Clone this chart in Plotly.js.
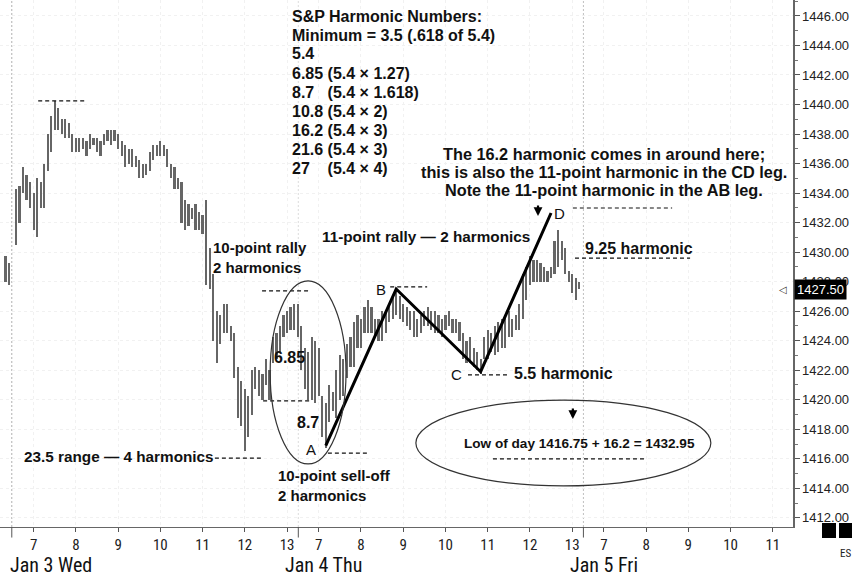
<!DOCTYPE html>
<html><head><meta charset="utf-8">
<script src="https://cdn.plot.ly/plotly-3.0.1.min.js"></script>
<style>html,body{margin:0;padding:0;background:#fff}#chart{width:855px;height:577px}</style>
</head><body><div id="chart"></div>
<script>
// 5-minute ES bars: index 0 = first bar of Jan 3 session (two bars of prior session at -3, -2)
const firstBar = -3;
const barHighs = [
 1429.75,1429.25,null,
 1434.25,1434.5,1435.75,1435.25,1434.75,1434.0,1435.0,1434.75,1436.0,1438.0,
 1439.25,1440.25,1439.75,1439.0,1439.0,1438.75,1438.0,1437.75,1437.75,1437.75,
 1437.5,1438.0,1437.75,1437.75,1437.5,1438.0,1438.25,1438.25,1438.25,1438.0,
 1437.5,1437.25,1437.0,1437.0,1436.5,1436.25,1436.0,1436.0,1436.75,1437.25,
 1437.25,1437.5,1437.25,1437.0,1436.0,1435.75,1435.0,1434.75,1433.5,1433.25,
 1433.0,1433.25,1432.75,1432.5,1433.5,1430.25,1428.5,1426.0,1425.75,1426.5,
 1426.5,1425.0,1424.5,1422.25,1421.25,1420.75,1420.25,1422.0,1422.25,1422.0,
 1421.75,1422.75,1422.0,1424.25,1424.5,1425.0,1425.75,1426.0,1426.25,1426.5,
 1426.5,1425.0,1423.5,1423.25,1424.25,1424.0,1423.5,1420.25,1419.75,1421.0,
 1420.5,1422.0,1423.0,1422.75,1423.75,1424.25,1425.25,1425.75,1425.5,1426.25,
 1426.75,1426.25,1425.5,1425.5,1426.0,1426.0,1426.5,1427.0,1427.5,1427.0,
 1426.5,1426.25,1426.0,1426.0,1425.5,1425.75,1426.0,1426.25,1426.0,1426.0,
 1425.75,1425.5,1425.75,1426.0,1425.5,1425.5,1425.25,1424.5,1424.0,1424.25,
 1423.5,1423.25,1422.75,1424.25,1424.75,1424.5,1425.0,1425.25,1425.5,1425.75,
 1426.0,1425.5,1425.75,1426.5,1428.5,1429.0,1429.75,1429.5,1429.5,1429.25,
 1429.0,1428.75,1429.0,1430.75,1431.5,1430.75,1430.25,1428.75,1428.5,1428.25,
 1428.0
];
const barLows = [
 1428.0,1427.75,null,
 1430.5,1432.0,1434.0,1433.5,1433.0,1431.5,1431.0,1433.0,1433.0,1435.5,
 1436.75,1438.25,1438.25,1438.0,1437.75,1437.75,1436.75,1436.75,1436.75,1437.0,
 1436.5,1437.0,1437.25,1436.75,1436.5,1437.25,1437.5,1437.25,1437.5,1437.0,
 1436.5,1435.75,1436.0,1435.75,1435.75,1435.0,1435.0,1435.25,1435.5,1436.25,
 1436.5,1436.5,1436.5,1435.75,1435.0,1434.25,1434.25,1432.0,1431.5,1431.75,
 1432.25,1431.5,1431.5,1431.25,1427.75,1427.5,1424.0,1422.5,1423.75,1424.5,
 1424.5,1424.0,1421.5,1418.75,1418.25,1416.5,1417.5,1419.0,1420.75,1420.25,
 1420.0,1421.0,1420.0,1422.5,1422.75,1423.25,1424.25,1424.5,1424.75,1424.75,
 1424.25,1422.0,1420.75,1420.0,1420.0,1419.75,1420.25,1417.5,1416.75,1418.5,
 1419.25,1418.75,1420.0,1420.25,1421.5,1422.25,1422.25,1423.5,1423.5,1424.5,
 1424.5,1424.5,1424.25,1424.0,1424.0,1424.5,1425.25,1425.5,1425.75,1425.5,
 1425.25,1425.0,1424.75,1424.25,1424.25,1424.5,1425.0,1425.0,1424.75,1424.5,
 1424.5,1424.25,1424.75,1425.0,1424.5,1424.5,1424.0,1422.75,1422.5,1422.5,
 1422.25,1422.0,1421.75,1422.75,1422.75,1423.25,1423.0,1423.25,1423.5,1423.5,
 1424.25,1424.25,1424.75,1424.75,1425.5,1426.75,1427.75,1428.0,1428.0,1428.0,
 1428.0,1428.0,1428.25,1428.5,1429.0,1429.5,1428.5,1428.0,1427.25,1426.75,
 1427.5
];
const lastPrice = 1427.50;

// ABCD pattern pivots
const pivotLabels = ['A','B','C','D'];
const pivotBars = [88, 108, 132, 152];
const pivotPrices = [1416.9, 1427.5, 1421.9, 1432.65];

// axis labels
const sessionHours = ['7','8','9','10','11','12','13'];
const lastDayHours = ['7','8','9','10','11'];
const dayLabels = ['Jan 3 Wed','Jan 4 Thu','Jan 5 Fri'];

// text blocks
const harmonicLines = [
 'S&P Harmonic Numbers:',
 'Minimum = 3.5 (.618 of 5.4)',
 '5.4',
 '6.85 (5.4 \u00d7 1.27)',
 '8.7\u00a0\u00a0\u00a0(5.4 \u00d7 1.618)',
 '10.8 (5.4 \u00d7 2)',
 '16.2 (5.4 \u00d7 3)',
 '21.6 (5.4 \u00d7 3)',
 '27\u00a0\u00a0\u00a0\u00a0(5.4 \u00d7 4)'
];
const cdNoteLines = [
 'The 16.2 harmonic comes in around here;',
 'this is also the 11-point harmonic in the CD leg.',
 'Note the 11-point harmonic in the AB leg.'
];

const xs = barHighs.map((_, i) => firstBar + i);
const spans = barHighs.map((h, i) => (h == null ? null : h - barLows[i]));

const tickVals = [], tickText = [];
for (let d = 0; d < 3; d++) {
  const hrs = d < 2 ? sessionHours : lastDayHours;
  hrs.forEach((h, j) => { tickVals.push(5 + 81 * d + 12 * j); tickText.push(h); });
}

const FONT = 'Liberation Sans, Arial, Helvetica, sans-serif';
const NARROW = 'Liberation Sans Narrow, Arial Narrow, Roboto Condensed, Liberation Sans, Arial, sans-serif';
const PLOT_H = 527;   // plot-area height in px (for paper-based text rows)

const data = [
  {type: 'bar', x: xs, y: spans, base: barLows, width: 0.62,
   marker: {color: '#666666', line: {width: 0}}, hoverinfo: 'skip', showlegend: false},
  {type: 'scatter', mode: 'lines', x: pivotBars, y: pivotPrices,
   line: {color: '#000', width: 3}, hoverinfo: 'skip', showlegend: false}
];

function dashed(x0, x1, y) {
  return {type: 'line', xref: 'x', yref: 'y', x0, x1, y0: y, y1: y,
          line: {color: '#111', width: 1.2, dash: '4px,3px'}};
}
function sep(x, c) {
  return {type: 'line', xref: 'x', yref: 'paper', x0: x, x1: x, y0: 0, y1: 1,
          line: {color: c, width: 1, dash: '2px,2px'}, layer: 'below'};
}
function daytick(x) {
  return {type: 'line', xref: 'x', yref: 'paper', x0: x, x1: x, y0: 0, y1: -0.02,
          line: {color: '#555', width: 1}};
}

const shapes = [
  sep(-1.2, '#b0b0b0'), sep(80.2, '#dddddd'), sep(161.2, '#c0c0c0'),
  daytick(-1.2), daytick(80.2), daytick(161.2),
  dashed(6.3, 19.6, 1440.24),
  dashed(69.9, 83.5, 1427.37),
  dashed(70.2, 83.5, 1419.92),
  dashed(56.5, 70.2, 1416.05),
  dashed(88.6, 100, 1416.39),
  dashed(106.3, 116.8, 1427.64),
  dashed(128.4, 139.8, 1421.68),
  dashed(158.2, 186.4, 1432.99),
  dashed(158.8, 191.5, 1429.6),
  dashed(135.5, 178.7, 1415.99),
  {type: 'circle', xref: 'x', yref: 'y', x0: 72.2, x1: 93.75, y0: 1415.65, y1: 1428.05,
   line: {color: '#333', width: 1.2}},
  {type: 'circle', xref: 'x', yref: 'y', x0: 113.6, x1: 197.4, y0: 1414.16, y1: 1419.98,
   line: {color: '#333', width: 1.2}},
  {type: 'rect', xref: 'paper', yref: 'paper', x0: 1.0366, x1: 1.0542, y0: 0.0076, y1: -0.0209,
   fillcolor: '#000', line: {width: 0}},
  {type: 'rect', xref: 'paper', yref: 'paper', x0: 1.058, x1: 1.0744, y0: 0.0076, y1: -0.0209,
   fillcolor: '#000', line: {width: 0}}
];

function txt(x, y, text, opts) {
  return Object.assign({xref: 'x', yref: 'y', x, y, text, showarrow: false,
    xanchor: 'left', yanchor: 'middle', align: 'left',
    font: {family: FONT, size: 15, color: '#111'}}, opts || {});
}
const b = s => '<b>' + s + '</b>';

const annotations = [
  txt(55.4, 1429.62, b('10-point rally') + '<br>' + b('2 harmonics')),
  txt(86.36, 1431.09, b('11-point rally \u2014 2 harmonics'), {font: {family: FONT, size: 15.3, color: '#111'}}),
  txt(161.08, 1430.28, b('9.25 harmonic'), {font: {family: FONT, size: 16, color: '#111'}}),
  txt(140.9, 1421.81, b('5.5 harmonic'), {font: {family: FONT, size: 16, color: '#111'}}),
  txt(1.7, 1416.19, b('23.5 range \u2014 4 harmonics'), {font: {family: FONT, size: 15.3, color: '#111'}}),
  txt(73.86, 1414.19, b('10-point sell-off') + '<br>' + b('2 harmonics')),
  txt(72.7, 1422.83, b('6.85'), {font: {family: FONT, size: 16, color: '#111'}}),
  txt(79.26, 1418.43, b('8.7'), {font: {family: FONT, size: 16, color: '#111'}}),
  txt(160.2, 1417.07, b('Low of day 1416.75 + 16.2 = 1432.95'), {xanchor: 'center',
      font: {family: FONT, size: 13.6, color: '#111'}}),
  txt(83.8, 1416.6, pivotLabels[0], {xanchor: 'center'}),
  txt(103.7, 1427.5, pivotLabels[1], {xanchor: 'center'}),
  txt(125.2, 1421.68, pivotLabels[2], {xanchor: 'center'}),
  txt(154.5, 1432.65, pivotLabels[3], {xanchor: 'center'}),
  {xref: 'x', yref: 'y', x: 148.3, y: 1432.45, ax: 0, ay: -12, text: '', showarrow: true,
   arrowhead: 2, arrowsize: 0.8, arrowwidth: 2.2, arrowcolor: '#000'},
  {xref: 'x', yref: 'y', x: 158.2, y: 1418.7, ax: 0, ay: -12, text: '', showarrow: true,
   arrowhead: 2, arrowsize: 0.8, arrowwidth: 2.2, arrowcolor: '#000'},
  {xref: 'paper', yref: 'y', x: 1, y: lastPrice, xanchor: 'left', yanchor: 'middle', xshift: 1,
   text: lastPrice.toFixed(2), showarrow: false, bgcolor: '#000', borderpad: 2,
   font: {family: FONT, size: 13, color: '#fff'}},
  {xref: 'paper', yref: 'y', x: 1, y: lastPrice, xanchor: 'right', yanchor: 'middle', xshift: -4,
   text: '\u25c1', showarrow: false, font: {family: 'DejaVu Sans', size: 10, color: '#333'}},
  {xref: 'paper', yref: 'paper', x: 1.0656, y: -0.05, xanchor: 'center', yanchor: 'middle',
   text: 'ES', showarrow: false, font: {family: NARROW, size: 11, color: '#222'}}
];
// harmonic numbers list: one row per line, tight leading as in the figure
harmonicLines.forEach((s, i) => annotations.push({
  xref: 'x', yref: 'paper', x: 77.84, y: 1 - (16 + 19 * i) / PLOT_H, xanchor: 'left', yanchor: 'middle',
  text: b(s), showarrow: false, font: {family: FONT, size: 16, color: '#111'}
}));
cdNoteLines.forEach((s, i) => annotations.push({
  xref: 'x', yref: 'paper', x: 167.05, y: 1 - (154 + 18 * i) / PLOT_H, xanchor: 'center', yanchor: 'middle',
  text: b(s), showarrow: false, font: {family: FONT, size: 16.3, color: '#111'}
}));
[-2.3, 75.85, 156.8].forEach((x, i) => annotations.push({
  xref: 'x', yref: 'paper', x, y: 1 - 565 / PLOT_H, xanchor: 'left', yanchor: 'middle',
  text: dayLabels[i], showarrow: false, font: {family: NARROW, size: 20, color: '#111'}
}));

const layout = {
  width: 855, height: 577,
  margin: {l: 0, r: 62, t: 0, b: 50, pad: 0},
  paper_bgcolor: '#fff', plot_bgcolor: '#fff',
  bargap: 0, showlegend: false,
  xaxis: {range: [-4.55, 220.74], tickmode: 'array', tickvals: tickVals, ticktext: tickText,
          ticks: 'outside', ticklen: 4, tickcolor: '#555', showline: true, linecolor: '#666',
          linewidth: 1, zeroline: false, showgrid: true, gridcolor: '#f1f1f1', griddash: 'dot',
          tickfont: {family: NARROW, size: 15, color: '#222'}, fixedrange: true},
  yaxis: {side: 'right', range: [1411.38, 1447.08], dtick: 2, tick0: 1412, tickformat: '.2f',
          ticks: 'outside', ticklen: 5, tickcolor: '#555', showline: true, linecolor: '#666',
          linewidth: 1.5, zeroline: false, showgrid: true, gridcolor: '#f1f1f1', griddash: 'dot',
          minor: {dtick: 1, ticks: 'outside', ticklen: 3, tickcolor: '#777', showgrid: false},
          tickfont: {family: FONT, size: 13, color: '#222'}, fixedrange: true},
  shapes, annotations
};

Plotly.newPlot('chart', data, layout, {staticPlot: true});
</script>
</body></html>
